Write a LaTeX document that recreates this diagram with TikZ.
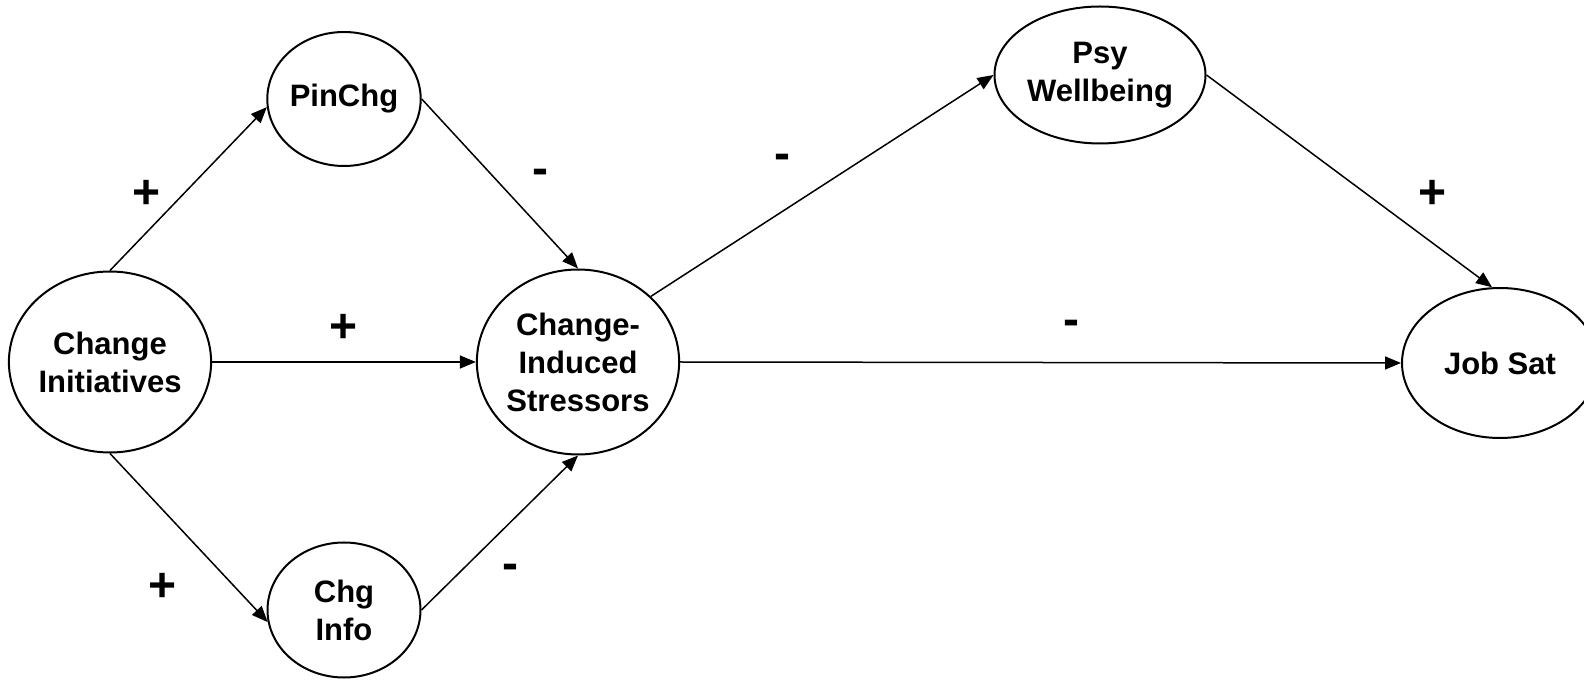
\documentclass[tikz,border=0pt]{standalone}
\usepackage{fontspec}
\setmainfont{Liberation Sans}
\usetikzlibrary{shapes.geometric,arrows.meta,positioning,calc}

\tikzset{
  construct/.style={draw,ellipse,line width=1pt,inner sep=0pt,
    align=center,font=\fontsize{15.5}{19}\selectfont\bfseries},
  path/.style={-{Triangle[length=8pt,width=6.5pt]},line width=0.75pt},
  sign/.style={inner sep=0pt,font=\fontsize{24}{24}\selectfont\bfseries}
}

\begin{document}
\begin{tikzpicture}[x=0.5pt,y=0.5pt]
      \useasboundingbox (0,0) rectangle (1584,680);
      % Constructs
      \node[construct,minimum width=98pt,minimum height=90.5pt] (ci) at (110,318) {Change\\Initiatives};
      \node[construct,minimum width=76pt,minimum height=67pt] (pin) at (344,581) {PinChg};
      \node[construct,minimum width=76.5pt,minimum height=67.5pt] (info) at (344,70) {Chg\\Info};
      \node[construct,minimum width=98.5pt,minimum height=92.5pt] (stress) at (578,318) {Change-\\Induced\\Stressors};
      \node[construct,minimum width=105.5pt,minimum height=68.5pt] (psy) at (1100,605) {Psy\\Wellbeing};
      \node[construct,minimum width=98pt,minimum height=75pt] (job) at (1500,317) {Job Sat};
      % Paths
      \draw[path] (ci.north) -- (pin.186);
      \draw[path] (ci.south) -- (info.189);
      \draw[path] (ci.east) -- (stress.west);
      \draw[path] (pin.east) -- (stress.north);
      \draw[path] (info.east) -- (stress.south);
      \draw[path] (stress.42) -- (psy.west);
      \draw[path] (psy.east) -- (job.96);
      \draw[path] (stress.east) -- (job.west);
      % Signs
      \node[sign] (s1) at (147,486) {+};
      \node[sign] (s2) at (344,352) {+};
      \node[sign] (s3) at (163,93) {+};
      \node[sign] (s4) at (540,503) {-};
      \node[sign] (s5) at (510,108) {-};
      \node[sign] (s6) at (782,518) {-};
      \node[sign] (s7) at (1432,486) {+};
      \node[sign] (s8) at (1071,352) {-};
    \end{tikzpicture}
\end{document}
